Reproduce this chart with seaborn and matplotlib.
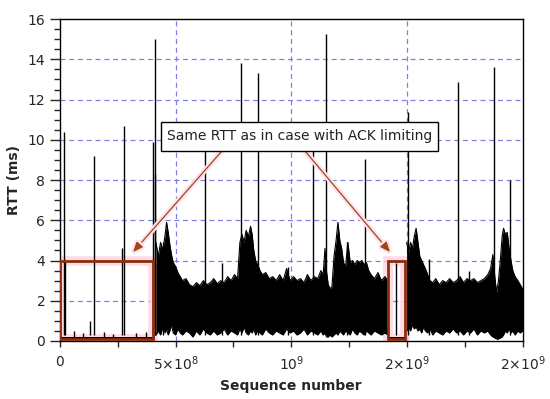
import numpy as np
import pandas as pd
import seaborn as sns
import matplotlib
matplotlib.use("Agg")
import matplotlib.pyplot as plt
from matplotlib.patches import Rectangle
import matplotlib.patheffects as pe

# sequence numbers below are in units of 1e9, RTT in ms

# dense RTT band after the first slow phase (upper / lower envelope)
band_a_seq = [0.415, 0.425, 0.435, 0.445, 0.455, 0.461, 0.468, 0.475, 0.482, 0.490,
              0.500, 0.510, 0.520, 0.530, 0.545, 0.560, 0.575, 0.590, 0.605, 0.620,
              0.635, 0.650, 0.665, 0.680, 0.695, 0.710, 0.725, 0.740, 0.755, 0.768,
              0.778, 0.787, 0.796, 0.805, 0.815, 0.824, 0.831, 0.838, 0.846, 0.855,
              0.865, 0.875, 0.890, 0.905, 0.920, 0.935, 0.950, 0.965, 0.980, 0.995,
              1.010, 1.025, 1.040, 1.055, 1.070, 1.085, 1.100, 1.115, 1.128, 1.138,
              1.146, 1.153, 1.160, 1.168, 1.176, 1.185, 1.194, 1.202, 1.210, 1.218,
              1.226, 1.235, 1.245, 1.255, 1.265, 1.275, 1.285, 1.295, 1.305, 1.315,
              1.325, 1.335, 1.345, 1.360, 1.375, 1.390, 1.405, 1.418]
band_a_hi = [4.9, 4.2, 4.9, 4.5, 5.3, 5.9, 5.4, 4.8, 4.3, 3.9,
             3.7, 3.4, 3.2, 3.0, 3.1, 2.8, 2.7, 2.9, 2.75, 3.0,
             2.8, 2.9, 3.1, 2.85, 3.0, 2.9, 3.2, 3.0, 3.3, 3.1,
             4.9, 5.3, 4.9, 5.5, 5.2, 5.7, 5.3, 4.5, 4.0, 3.8,
             3.5, 3.3, 3.4, 3.1, 3.2, 3.0, 3.3, 3.0, 3.6, 3.0,
             3.2, 3.0, 3.1, 2.9, 3.3, 3.0, 3.2, 3.1, 3.5, 3.3,
             4.6, 3.4, 2.8, 2.6, 2.7, 4.2, 5.0, 5.9, 5.0, 4.6,
             3.9, 3.7, 4.9, 3.9, 4.0, 3.8, 4.0, 3.9, 4.0, 3.8,
             3.9, 3.5, 3.3, 3.1, 3.4, 3.0, 3.2, 3.0]
band_a_lo = [0.3, 0.5, 0.3, 0.7, 0.4, 0.6, 0.3, 0.5, 0.8, 0.4,
             0.3, 0.6, 0.4, 0.3, 0.5, 0.4, 0.2, 0.5, 0.3, 0.6,
             0.4, 0.3, 0.5, 0.3, 0.4, 0.6, 0.3, 0.5, 0.4, 0.3,
             0.6, 0.4, 0.7, 0.4, 0.3, 0.5, 0.4, 0.6, 0.3, 0.5,
             0.4, 0.3, 0.6, 0.4, 0.3, 0.5, 0.4, 0.3, 0.6, 0.4,
             0.5, 0.3, 0.4, 0.6, 0.3, 0.5, 0.4, 0.3, 0.5, 0.3,
             0.4, 0.2, 0.2, 0.3, 0.2, 0.3, 0.4, 0.3, 0.5, 0.4,
             0.3, 0.5, 0.4, 0.3, 0.6, 0.4, 0.3, 0.5, 0.4, 0.3,
             0.5, 0.4, 0.3, 0.5, 0.4, 0.3, 0.4, 0.3]

band_b_seq = [1.499, 1.508, 1.516, 1.524, 1.532, 1.540, 1.548, 1.556, 1.564, 1.572,
              1.580, 1.590, 1.600, 1.612, 1.625, 1.640, 1.655, 1.670, 1.685, 1.700,
              1.715, 1.730, 1.745, 1.760, 1.775, 1.790, 1.805, 1.820, 1.835, 1.850,
              1.862, 1.872, 1.880, 1.888, 1.896, 1.904, 1.912, 1.918, 1.926, 1.934,
              1.942, 1.950, 1.958, 1.968, 1.980, 1.990, 2.000]
band_b_hi = [4.9, 4.4, 4.9, 4.6, 5.2, 5.6, 4.9, 4.2, 4.0, 3.8,
             3.6, 3.3, 3.0, 2.9, 3.1, 2.8, 3.0, 2.9, 3.1, 2.9,
             3.0, 3.2, 2.9, 3.1, 3.0, 3.1, 2.9, 3.0, 3.1, 3.3,
             3.6, 4.3, 3.2, 2.4, 3.0, 4.0, 5.2, 5.6, 5.3, 5.4,
             4.6, 4.0, 3.5, 3.2, 3.0, 2.8, 2.6]
band_b_lo = [0.5, 0.7, 0.5, 0.8, 0.6, 0.7, 0.5, 0.6, 0.4, 0.7,
             0.5, 0.4, 0.6, 0.3, 0.5, 0.4, 0.3, 0.5, 0.4, 0.6,
             0.4, 0.5, 0.3, 0.5, 0.4, 0.6, 0.3, 0.5, 0.4, 0.5,
             0.3, 0.2, 0.15, 0.1, 0.1, 0.15, 0.2, 0.3, 0.5, 0.4,
             0.6, 0.4, 0.5, 0.3, 0.5, 0.4, 0.5]

# low RTT phases (same as ACK limiting)
low_1_seq = [0.0, 0.41]
low_2_seq = [1.42, 1.495]
low_hi = [0.2, 0.2]

# isolated spikes: position, top
spike_seq = [0.017, 0.020, 0.130, 0.147, 0.268, 0.277, 0.404, 0.409, 0.413,
             0.627, 0.783, 0.858, 1.095, 1.150, 1.319, 1.452, 1.504, 1.720,
             1.877, 1.947, 0.06, 0.10, 0.19, 0.23, 0.33, 0.37,
             0.445, 0.700, 0.985, 1.240, 1.595, 1.770]
spike_top = [10.4, 4.0, 1.0, 9.2, 4.6, 10.7, 9.9, 15.0, 8.3,
             10.5, 13.8, 13.3, 10.0, 15.25, 9.05, 3.9, 11.4, 12.9,
             13.6, 8.0, 0.5, 0.4, 0.45, 0.35, 0.4, 0.45,
             4.9, 3.9, 3.7, 4.9, 4.1, 3.5]

xtick_labels = ["0", "", r"5×10$^{8}$", "", r"10$^{9}$", "", r"2×10$^{9}$", "", r"2×10$^{9}$"]

E9 = 1e9
sns.set_style("ticks")
plt.rcParams['font.family'] = ['DejaVu Sans']

fig = plt.figure(figsize=(5.5, 3.99), dpi=100)
ax = fig.add_axes([0.109, 0.1454, 0.841, 0.8066])

# grid
grid_kw = dict(color="#7f7fea", lw=0.9, ls=(0, (4, 3)), zorder=1)
for v in [5e8, 1e9, 1.5e9]:
    ax.axvline(v, **grid_kw)
for v in range(2, 16, 2):
    ax.axhline(v, **grid_kw)

df_a = pd.DataFrame({"seq": np.array(band_a_seq) * E9, "hi": band_a_hi, "lo": band_a_lo})
df_b = pd.DataFrame({"seq": np.array(band_b_seq) * E9, "hi": band_b_hi, "lo": band_b_lo})
for df in (df_a, df_b):
    ax.fill_between(df["seq"], df["lo"], df["hi"], color="black", lw=0, zorder=2)
    sns.lineplot(data=df, x="seq", y="hi", color="black", lw=0.8, ax=ax, zorder=2)
    sns.lineplot(data=df, x="seq", y="lo", color="black", lw=0.8, ax=ax, zorder=2)
for s in (low_1_seq, low_2_seq):
    ax.fill_between(np.array(s) * E9, [0.05, 0.05], low_hi, color="black", lw=0, zorder=2)

spike_base = [0.1 if t < 1 else 0.3 for t in spike_top]
ax.vlines(np.array(spike_seq) * E9, spike_base, spike_top, color="black", lw=1.0, zorder=2)

# highlighted boxes
for x0, x1 in [(0.0, 0.402), (1.418, 1.492)]:
    halo = Rectangle((x0 * E9, 0.1), (x1 - x0) * E9, 3.9, fill=False,
                     ec="#ffd0e2", lw=7, alpha=0.75, zorder=1.5)
    ax.add_patch(halo)
    box = Rectangle((x0 * E9, 0.1), (x1 - x0) * E9, 3.9, fill=False,
                    ec="#8b2e0a", lw=2, zorder=4)
    ax.add_patch(box)

# annotation arrows
for start, end in [((0.70, 9.44), (0.316, 4.42)), ((1.06, 9.44), (1.427, 4.42))]:
    ax.annotate("", xy=(end[0] * E9, end[1]), xytext=(start[0] * E9, start[1]),
                arrowprops=dict(arrowstyle="-|>,head_length=0.6,head_width=0.25",
                                color="#a0461a", lw=0.9, shrinkA=0, shrinkB=0,
                                path_effects=[pe.withStroke(linewidth=4, foreground="#ffe2ec")]),
                zorder=5)

ax.add_patch(Rectangle((0.4368 * E9, 9.44), 1.1978 * E9, 1.45, fc="white", ec="black",
                       lw=1, zorder=6))
ax.text(1.0357 * E9, 10.17, "Same RTT as in case with ACK limiting", ha="center",
        va="center", fontsize=10, color="#222222", zorder=7)

ax.set_xlim(0, 2e9)
ax.set_ylim(0, 16)
ax.set_xticks(np.arange(0, 2.01e9, 2.5e8))
ax.set_xticklabels(xtick_labels)
ax.set_yticks(range(0, 17, 2))
ax.set_yticks(np.arange(0, 16.01, 0.5), minor=True)
ax.tick_params(axis="y", which="major", length=7, width=1, labelsize=10, direction="out")
ax.tick_params(axis="y", which="minor", length=4, width=1, direction="out")
ax.tick_params(axis="x", which="major", length=4, width=1, labelsize=10, direction="out", pad=6)
for sp in ax.spines.values():
    sp.set_visible(True)
    sp.set_color("black")
    sp.set_linewidth(1)
ax.set_xlabel("Sequence number", fontsize=10, fontweight="bold", labelpad=4)
ax.set_ylabel("RTT (ms)", fontsize=10, fontweight="bold", labelpad=5)

fig.savefig("out.png", dpi=100)
